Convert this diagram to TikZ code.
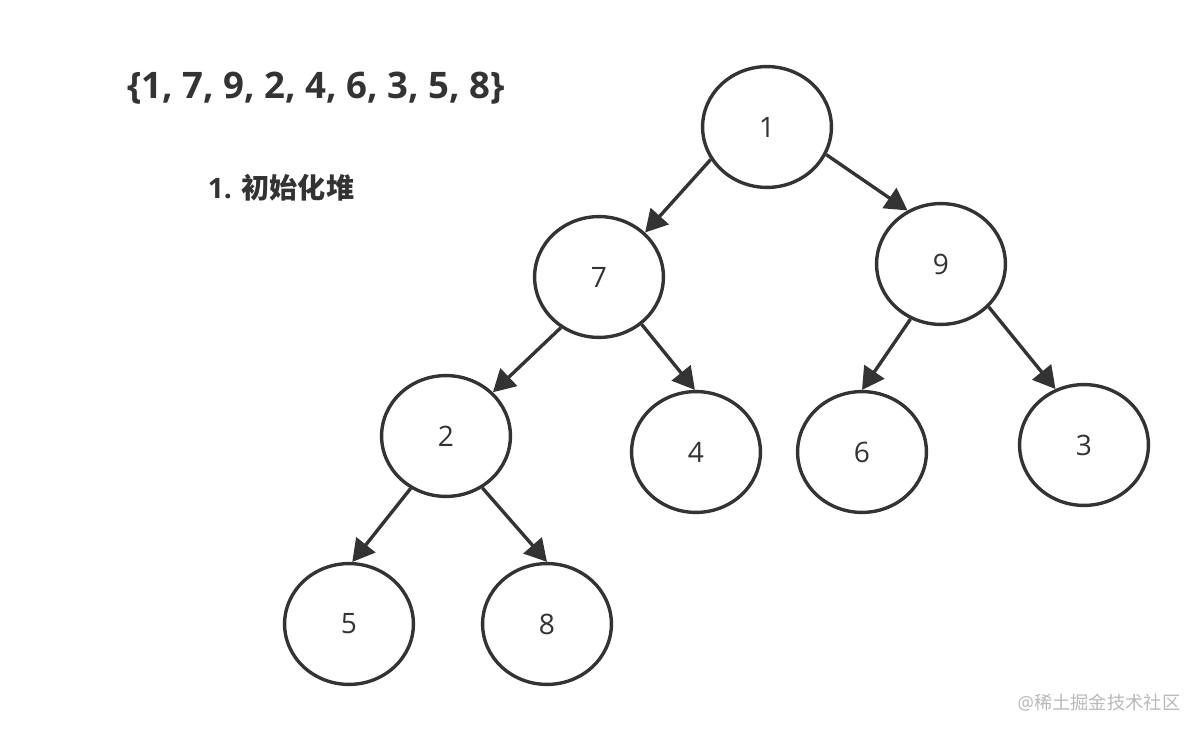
\documentclass[tikz,border=0pt]{standalone}
\usepackage{fontspec}
\setmainfont{Open Sans}
\newfontfamily\cjk{Noto Sans CJK SC}
\usetikzlibrary{shapes.geometric,arrows.meta}
\definecolor{ink}{HTML}{333333}
\begin{document}
\begin{tikzpicture}[
        x=0.025cm, y=-0.025cm,
        heapnode/.style={ellipse, draw=ink, line width=2.4pt, minimum width=3.22cm,
          minimum height=3.02cm, inner sep=0pt, text=ink, font=\fontsize{20}{24}\selectfont},
        arr/.style={-{Triangle[length=0.55cm, width=0.6cm]}, ink, line width=2.4pt},
        titlelbl/.style={font=\fontsize{26}{30}\selectfont\bfseries, text=ink},
        steplbl/.style={font=\fontsize{20}{24}\selectfont\bfseries, text=ink},
      ]
        \useasboundingbox (0,0) rectangle (1200,734);

        % texts
        \node[titlelbl] (arr) at (316, 88) {\{1, 7, 9, 2, 4, 6, 3, 5, 8\}};
        \node[steplbl] (step1) at (281, 188) {1. {\cjk 初始化堆}};

        % level 0
        \node[heapnode] (n1) at (767, 127) {1};

        % level 1
        \node[heapnode] (n7) at (599, 277) {7};
        \node[heapnode] (n9) at (941, 264) {9};
        \draw[arr] (n1.210) -- (n7.44);
        \draw[arr] (n1.335) -- (n9.122);

        % level 2
        \node[heapnode] (n2) at (446, 436) {2};
        \node[heapnode] (n4) at (696, 452) {4};
        \node[heapnode] (n6) at (862, 452) {6};
        \node[heapnode] (n3) at (1084, 445) {3};
        \draw[arr] (n7.233) -- (n2.43);
        \draw[arr] (n7.312) -- (n4.91);
        \draw[arr] (n9.241) -- (n6.90);
        \draw[arr] (n9.318) -- (n3.117);

        % level 3
        \node[heapnode] (n5) at (349, 624) {5};
        \node[heapnode] (n8) at (547, 624) {8};
        \draw[arr] (n2.236) -- (n5.87);
        \draw[arr] (n2.305) -- (n8.90);

        % watermark
        \node[text=gray!55, font=\fontsize{13}{15}\selectfont] (mark) at (1099, 703) {@{\cjk 稀土掘金技术社区}};
      \end{tikzpicture}
\end{document}
